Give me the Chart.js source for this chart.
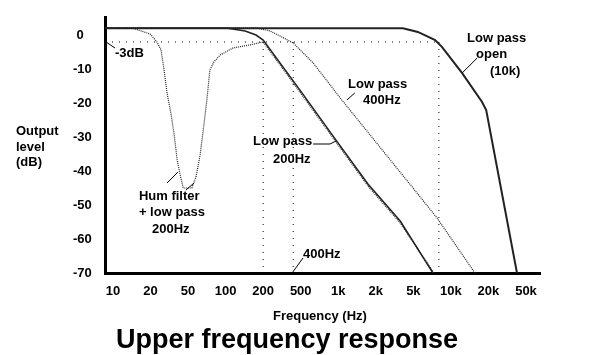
<!DOCTYPE html>
<html>
<head>
<meta charset="utf-8">
<script src="https://cdn.jsdelivr.net/npm/chart.js@4/dist/chart.umd.min.js"></script>
<style>
  html, body { margin: 0; padding: 0; background: #fff; }
  #wrap { width: 600px; height: 355px; position: relative; }
</style>
</head>
<body>
<div id="wrap"><canvas id="c"></canvas></div>
<script>
// ---- Data (x = position index along the frequency axis, y = output level dB) ----
const freqLabels = ['10','20','50','100','200','500','1k','2k','5k','10k','20k','50k'];
const levelTicks = [0, -10, -20, -30, -40, -50, -60, -70];

const openX = [-0.213, 7.72, 8.12, 8.58, 8.76, 9.30, 9.83, 9.94, 10.76];
const openY = [2, 2, 0.9, -1.5, -3.5, -11.2, -19.7, -22.1, -70];

const lp200X = [-0.213, 3.06, 3.52, 3.81, 4.0, 4.98, 5.94, 6.79, 7.65, 8.52];
const lp200Y = [2, 2, 1.2, 0, -1.5, -16.2, -30.9, -43.8, -54.7, -70];

const lp400X = [-0.213, 3.86, 4.18, 4.45, 4.80, 5.33, 6.05, 7.99, 8.63, 9.64];
const lp400Y = [2, 2, 1.2, -0.3, -2.35, -8.2, -18.5, -45, -53.8, -70];

const humX = [-0.213, 0.53, 0.99, 1.17, 1.28, 1.36, 1.44, 1.55, 1.63, 1.71, 1.79, 1.87,
              2.10, 2.21, 2.32, 2.42, 2.50, 2.58, 2.69, 2.85, 3.20, 3.65, 4.0,
              4.98, 5.94, 6.79, 7.65, 8.55];
const humY = [2, 2, 0.3, -2.05, -4.4, -10.3, -17.1, -23.5, -29.4, -36.8, -41.2, -45,
              -45, -41.8, -35.3, -26.5, -19.1, -10.3, -7.9, -5.9, -3.8, -2.9, -2.05,
              -16.8, -31.5, -44.4, -55.3, -70];

const minus3dBLevel = -2.05;
const cutoffX = [4.0, 4.8, 8.68];       // 200Hz, 400Hz, open (~10k) -3dB points
const xMin = -0.213, xMax = 11.373;
const yMin = -70, yMax = 5.3;

// ---- Annotations (in data units) ----
const noteTexts = [
  { t: '-3dB',       x: 0.053, y: -6.47 },
  { t: 'Low pass',   x: 6.26,  y: -15.58 },
  { t: '400Hz',      x: 6.66,  y: -20.29 },
  { t: 'Low pass',   x: 9.43,  y: -2.05 },
  { t: 'open',       x: 9.67,  y: -6.76 },
  { t: '(10k)',      x: 10.04, y: -11.76 },
  { t: 'Low pass',   x: 3.73,  y: -32.35 },
  { t: '200Hz',      x: 4.26,  y: -37.64 },
  { t: 'Hum filter', x: 0.69,  y: -48.53 },
  { t: '+ low pass', x: 0.69,  y: -53.23 },
  { t: '200Hz',      x: 1.04,  y: -58.24 },
  { t: '400Hz',      x: 5.06,  y: -65.59 }
];
const noteLeaders = [
  [[-0.186, -2.05], [0.053, -3.82]],
  [[6.23, -19.11], [6.44, -17.05]],
  [[9.30, -11.17], [9.70, -6.76]],
  [[5.33, -32.06], [5.78, -32.06], [5.94, -31.17]],
  [[1.44, -43.53], [1.73, -40.29]],
  [[1.94, -45.59], [2.16, -43.53]],
  [[4.79, -69.7], [5.06, -65.59]]
];

const pts = (xs, ys) => xs.map((x, k) => ({ x: x, y: ys[k] }));
const FONT = "'Liberation Sans', Arial, sans-serif";

const refDatasets = [];
refDatasets.push({
  data: [{ x: xMin, y: minus3dBLevel }, { x: cutoffX[2], y: minus3dBLevel }],
  borderColor: '#000', borderWidth: 1, borderDash: [1, 6], pointRadius: 0
});
cutoffX.forEach(cx => refDatasets.push({
  data: [{ x: cx, y: minus3dBLevel }, { x: cx, y: yMin }],
  borderColor: '#000', borderWidth: 1, borderDash: [1, 6], pointRadius: 0
}));

const textPlugin = {
  id: 'texts',
  afterDraw(chart) {
    const ctx = chart.ctx;
    const xs = chart.scales.x, ys = chart.scales.y;
    ctx.save();
    ctx.fillStyle = '#000';
    ctx.strokeStyle = '#000';
    ctx.lineWidth = 1;
    ctx.textBaseline = 'alphabetic';
    ctx.textAlign = 'left';
    ctx.font = 'bold 13px ' + FONT;
    noteTexts.forEach(n => ctx.fillText(n.t, xs.getPixelForValue(n.x), ys.getPixelForValue(n.y)));
    noteLeaders.forEach(seg => {
      ctx.beginPath();
      seg.forEach((p, k) => {
        const px = xs.getPixelForValue(p[0]), py = ys.getPixelForValue(p[1]);
        if (k === 0) ctx.moveTo(px, py); else ctx.lineTo(px, py);
      });
      ctx.stroke();
    });
    // axis titles
    ctx.fillText('Output', 16, 135);
    ctx.fillText('level', 16, 151);
    ctx.fillText('(dB)', 16, 166);
    ctx.fillText('Frequency (Hz)', 273, 320);
    ctx.font = 'bold 27px ' + FONT;
    ctx.fillText('Upper frequency response', 116, 348);
    ctx.restore();
  }
};

new Chart(document.getElementById('c'), {
  type: 'line',
  data: {
    datasets: [
      ...refDatasets,
      { label: 'Low pass 400Hz', data: pts(lp400X, lp400Y), borderColor: '#222', borderWidth: 1.2, borderDash: [1, 1], pointRadius: 0 },
      { label: 'Hum filter + low pass 200Hz', data: pts(humX, humY), borderColor: '#222', borderWidth: 1.2, borderDash: [1, 1], pointRadius: 0 },
      { label: 'Low pass 200Hz', data: pts(lp200X, lp200Y), borderColor: '#222', borderWidth: 1.5, pointRadius: 0 },
      { label: 'Low pass open (10k)', data: pts(openX, openY), borderColor: '#222', borderWidth: 2, pointRadius: 0 }
    ]
  },
  options: {
    responsive: true,
    maintainAspectRatio: false,
    animation: false,
    devicePixelRatio: 1,
    layout: { padding: { left: 73, top: 17, right: 60, bottom: 0 } },
    plugins: { legend: { display: false }, tooltip: { enabled: false }, title: { display: false } },
    elements: { line: { tension: 0 } },
    scales: {
      x: {
        type: 'linear', min: xMin, max: xMax,
        grid: { display: false, drawTicks: false },
        border: { display: true, color: '#000', width: 3 },
        afterBuildTicks: s => { s.ticks = freqLabels.map((_, i) => ({ value: i })); },
        afterFit: s => { s.height = 82; },
        ticks: {
          autoSkip: false, maxRotation: 0, padding: 11, color: '#000',
          font: { family: FONT, size: 13, weight: 'bold' },
          callback: v => freqLabels[v]
        }
      },
      y: {
        type: 'linear', min: yMin, max: yMax,
        grid: { display: false, drawTicks: false },
        border: { display: true, color: '#000', width: 3 },
        afterBuildTicks: s => { s.ticks = levelTicks.map(v => ({ value: v })); },
        afterFit: s => { s.width = 32; },
        ticks: {
          crossAlign: 'far', padding: 0, color: '#000',
          font: { family: FONT, size: 13, weight: 'bold' },
          callback: v => (v === 0 ? ' 0' : String(v))
        }
      }
    }
  },
  plugins: [textPlugin]
});
</script>
</body>
</html>
